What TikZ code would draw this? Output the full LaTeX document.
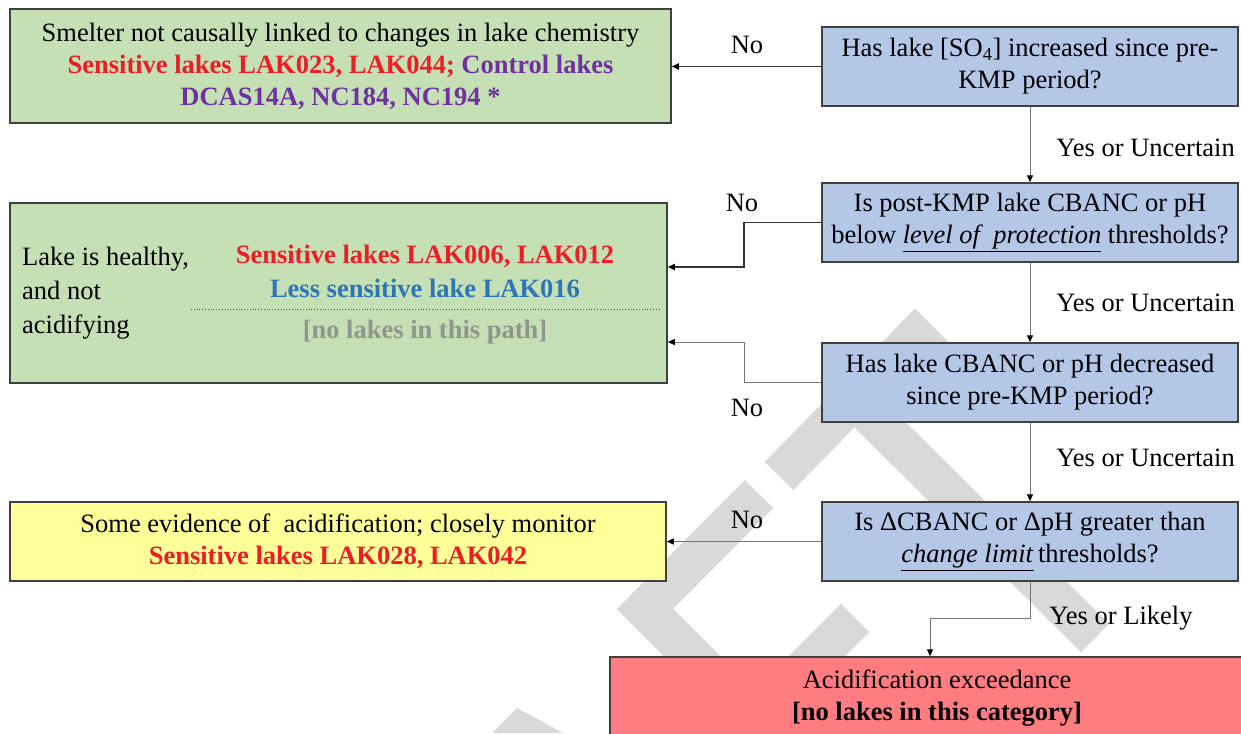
\documentclass[tikz,border=0pt]{standalone}
\usepackage{fontspec}
\setmainfont{Liberation Serif}
\usetikzlibrary{arrows.meta}
\definecolor{gfill}{HTML}{C5E0B4}
\definecolor{bfill}{HTML}{B4C7E7}
\definecolor{yfill}{HTML}{FFFF99}
\definecolor{rfill}{HTML}{FF7C80}
\definecolor{txtred}{HTML}{EE1C25}
\definecolor{txtpurple}{HTML}{7030A0}
\definecolor{txtblue}{HTML}{2E75B6}
\definecolor{txtgray}{HTML}{8F968F}
\definecolor{wm}{RGB}{217,217,217}
\definecolor{edge}{HTML}{404040}
\newcommand{\myfs}{\fontsize{26.5}{32}\selectfont}
\newcommand{\myfsb}{\fontsize{26.5}{34}\selectfont}
\begin{document}
\begin{tikzpicture}[x=1pt,y=-1pt,
  box/.style={draw=edge,line width=1.5pt,rectangle,inner sep=0pt,align=center,font=\myfs},
  qbox/.style={box,fill=bfill,minimum width=416pt,minimum height=79pt},
  lbl/.style={inner sep=0pt,font=\myfs},
  darkline/.style={draw=black!80,line width=1.6pt,-{Triangle[length=7pt,width=6pt,black]}},
  grayline/.style={draw=black!55,line width=1pt,-{Triangle[length=7pt,width=6pt,black]}},
  wmband/.style={draw=wm,line width=40pt,line cap=butt,line join=miter}
]
\useasboundingbox (0,0) rectangle (1241,733);
\clip (0,0) rectangle (1241,733);
\fill[white] (0,0) rectangle (1241,733);

% watermark
\draw[wmband] (779,476) -- (915,337) -- (980,402);
\draw[wmband] (840,385) -- (1095,638);
\draw[wmband] (759,494) -- (645,609) -- (760,724);
\draw[wmband] (855,618) -- (790,683);
\fill[wm] (517,708) -- (492,733) -- (563,733) -- cycle;

% outcome boxes
\node[box,fill=gfill,minimum width=661pt,minimum height=114pt] (g1) at (340.5,66)
 {Smelter not causally linked to changes in lake chemistry\\
  {\color{txtred}\bfseries Sensitive lakes LAK023, LAK044;} {\color{txtpurple}\bfseries Control lakes}\\
  {\color{txtpurple}\bfseries DCAS14A, NC184, NC194 *}};

\node[box,fill=gfill,minimum width=657pt,minimum height=180pt] (g2) at (338.5,293) {};
\node[lbl,anchor=west,align=left,font=\myfsb] (g2l) at (22,293)
 {Lake is healthy,\\and not\\acidifying};
\node[lbl,align=center,font=\myfsb] (g2r) at (425,271)
 {{\color{txtred}\bfseries Sensitive lakes LAK006, LAK012}\\
  {\color{txtblue}\bfseries Less sensitive lake LAK016}};
\draw[black!70,line width=0.8pt,dotted] (191,309) -- (659,309);
\node[lbl] (g2n) at (425,332) {\color{txtgray}\bfseries [no lakes in this path]};

\node[box,fill=yfill,minimum width=656pt,minimum height=79pt] (y) at (338,541.5)
 {Some evidence of~ acidification; closely monitor\\
  {\color{txtred}\bfseries Sensitive lakes LAK028, LAK042}};

\node[box,fill=rfill,minimum width=654pt,minimum height=83pt] (r) at (937,698.5)
 {Acidification exceedance\\ {\bfseries [no lakes in this category]}};

% question boxes
\node[qbox] (q1) at (1030,66.5)
 {Has lake [SO\textsubscript{4}] increased since pre-\\KMP period?};
\node[qbox] (q2) at (1030,222.5)
 {Is post-KMP lake CBANC or pH\\below \underline{\textit{level of\enspace protection}} thresholds?};
\node[qbox] (q3) at (1030,382.5)
 {Has lake CBANC or pH decreased\\since pre-KMP period?};
\node[qbox] (q4) at (1030,541.5)
 {Is ΔCBANC or ΔpH greater than\\\underline{\textit{change limit}}\,thresholds?};

% connectors
\draw[darkline] (q1.west) -- (q1.west -| g1.east);
\draw[grayline] (q1.south) -- (q2.north);
\draw[darkline] (q2.west) -- ++(-77,0) |- ([yshift=26pt]g2.east);
\draw[grayline] (q2.south) -- (q3.north);
\draw[grayline] (q3.west) -- ++(-77,0) |- ([yshift=-49pt]g2.east);
\draw[grayline] (q3.south) -- (q4.north);
\draw[grayline,line width=1.3pt] (q4.west) -- (y.east);
\draw[grayline] (q4.south) -- ++(0,37) -| ([xshift=-7pt]r.north);

% labels
\node[lbl] (n1) at (747,45) {No};
\node[lbl] (n2) at (742,203) {No};
\node[lbl] (n3) at (747,408) {No};
\node[lbl] (n4) at (747,520) {No};
\node[lbl,anchor=east] (y1) at (1235,148) {Yes or Uncertain};
\node[lbl,anchor=east] (y2) at (1235,303) {Yes or Uncertain};
\node[lbl,anchor=east] (y3) at (1235,458) {Yes or Uncertain};
\node[lbl] (y4) at (1121,618) {Yes or Likely};
\end{tikzpicture}
\end{document}
